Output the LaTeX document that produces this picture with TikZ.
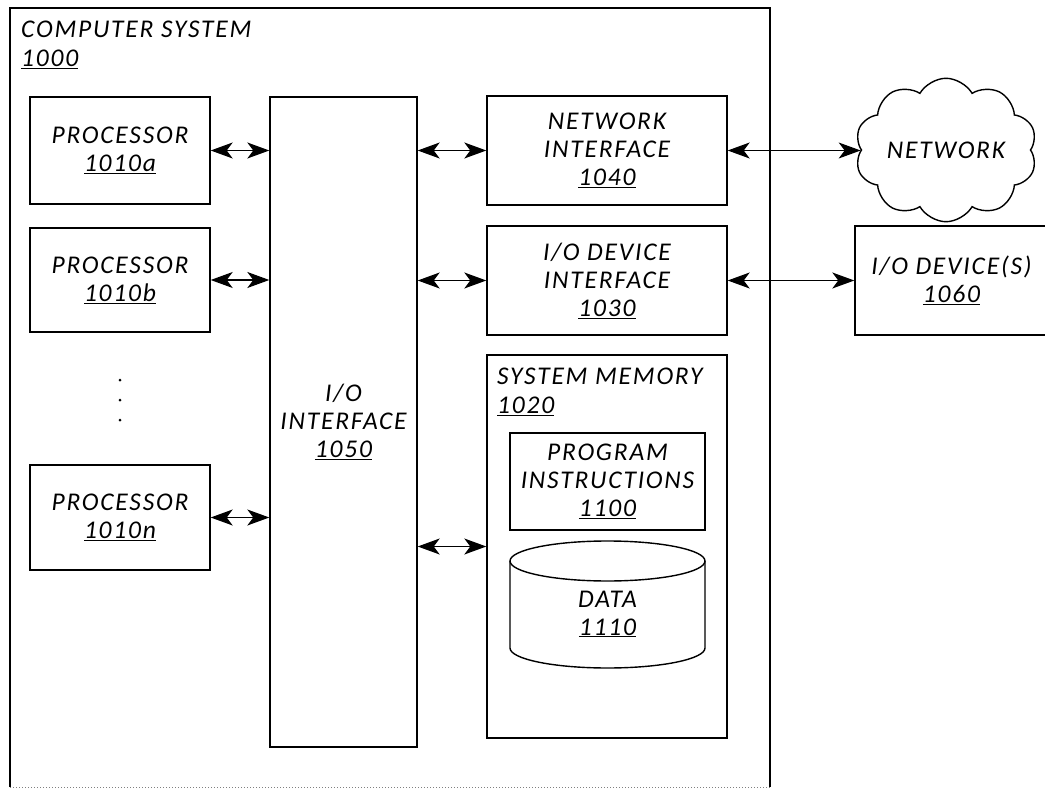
\documentclass[tikz,border=0pt]{standalone}
\usepackage{fontspec}
\setmainfont{Carlito}[LetterSpace=7]
\usetikzlibrary{shapes.symbols,arrows.meta}
\newcommand\refnum[1]{\underline{#1}}
\begin{document}
\begin{tikzpicture}[x=1pt,y=-1pt,
  font=\itshape\fontsize{25.5}{28}\selectfont,
  box/.style={draw, line width=1.4pt, align=center, inner sep=0pt},
  lbl/.style={align=left, inner sep=0pt, anchor=north west, font=\itshape\fontsize{25.5}{29}\selectfont},
  link/.style={{Stealth[length=22pt,width=16pt,inset=6pt]}-{Stealth[length=22pt,width=16pt,inset=6pt]}, line width=1.2pt}]
\useasboundingbox (0,0) rectangle (1045,789);
% outer frame
\draw[line width=1.4pt] (10,787) -- (10,8) -- (770,8) -- (770,787);
\draw[dotted, gray, line width=1pt] (10,787) -- (770,787);
\node[lbl] (cslbl) at (21,21) {COMPUTER SYSTEM\\\refnum{1000}};
% processors
\node[box, minimum width=180pt, minimum height=107pt] (p1) at (120,150.5) {PROCESSOR\\\refnum{1010a}};
\node[box, minimum width=180pt, minimum height=104pt] (p2) at (120,280) {PROCESSOR\\\refnum{1010b}};
\node[box, minimum width=180pt, minimum height=105pt] (pn) at (120,517.5) {PROCESSOR\\\refnum{1010n}};
\foreach \yy/\nm in {380/d1,400/d2,420/d3} \fill (120,\yy) circle (1.5pt) coordinate (\nm);
% I/O interface
\node[box, minimum width=147pt, minimum height=650pt] (io) at (343.5,422) {I/O\\INTERFACE\\\refnum{1050}};
% right column
\node[box, minimum width=240pt, minimum height=109pt] (ni) at (607,150.5) {NETWORK\\INTERFACE\\\refnum{1040}};
\node[box, minimum width=240pt, minimum height=109pt] (iod) at (607,280.5) {I/O DEVICE\\INTERFACE\\\refnum{1030}};
\node[box, minimum width=240pt, minimum height=383pt] (mem) at (607,546.5) {};
\node[lbl] (memlbl) at (497,368) {SYSTEM MEMORY\\\refnum{1020}};
\node[box, minimum width=195pt, minimum height=97pt] (prog) at (607.5,481.5) {PROGRAM\\INSTRUCTIONS\\\refnum{1100}};
% data cylinder
\draw[line width=1.4pt] (607.5,561) ellipse [x radius=97.5, y radius=20];
\draw[line width=1.4pt] (510,561) -- (510,648)
  .. controls (510,659.05) and (553.65,668) .. (607.5,668)
  .. controls (661.35,668) and (705,659.05) .. (705,648) -- (705,561);
\node[align=center, inner sep=0pt] (data) at (607.5,614) {DATA\\\refnum{1110}};
% external
\node[cloud, cloud puffs=10, cloud puff arc=120, aspect=1.4, draw, line width=1.4pt,
  minimum width=182pt, minimum height=130pt, inner sep=0pt] (net) at (946,150) {NETWORK};
\node[box, minimum width=193pt, minimum height=109pt] (dev) at (951.5,280.5) {I/O DEVICE(S)\\\refnum{1060}};
% connectors
\draw[link] (p1.east) -- (p1.east -| io.west);
\draw[link] (p2.east) -- (p2.east -| io.west);
\draw[link] (pn.east) -- (pn.east -| io.west);
\draw[link] (ni.west -| io.east) -- (ni.west);
\draw[link] (iod.west -| io.east) -- (iod.west);
\draw[link] (mem.west -| io.east) -- (mem.west);
\draw[link] (ni.east) -- (ni.east -| net.west);
\draw[link] (iod.east) -- (dev.west);
\end{tikzpicture}
\end{document}
